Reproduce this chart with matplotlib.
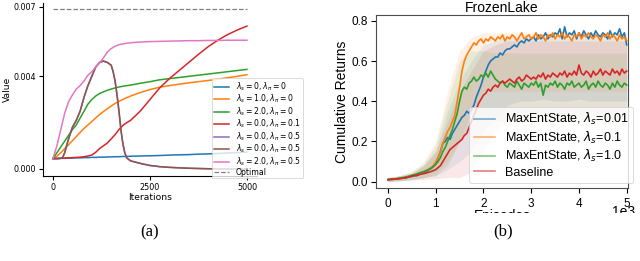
import numpy as np
import matplotlib
matplotlib.use("Agg")
import matplotlib.pyplot as plt
from matplotlib.patches import Rectangle

# ---------------- panel (a): value vs iterations ----------------
iters = [0, 100, 200, 300, 400, 500, 600, 700, 800, 900, 1000, 1100, 1200, 1300, 1400,
         1500, 1600, 1700, 1800, 1900, 2000, 2250, 2500, 2750, 3000, 3250, 3500, 3750,
         4000, 4250, 4500, 4750, 5000]

v_s0_p0 = [0.00045, 0.00045, 0.00046, 0.00046, 0.00047, 0.00047, 0.00048, 0.00048, 0.00049,
           0.00049, 0.0005, 0.0005, 0.00051, 0.00051, 0.00052, 0.00052, 0.00053, 0.00053,
           0.00054, 0.00054, 0.00055, 0.00056, 0.00057, 0.00058, 0.0006, 0.00061, 0.00062,
           0.00064, 0.00065, 0.00067, 0.00069, 0.00071, 0.00073]
v_s1_p0 = [0.00045, 0.00055, 0.0007, 0.00088, 0.00105, 0.00122, 0.0014, 0.00158, 0.00175,
           0.0019, 0.00205, 0.0022, 0.00235, 0.00248, 0.0026, 0.00272, 0.00283, 0.00292,
           0.003, 0.00308, 0.00315, 0.0033, 0.00343, 0.00353, 0.0036, 0.00366, 0.00372,
           0.00377, 0.00382, 0.00388, 0.00394, 0.004, 0.00407]
v_s2_p0 = [0.00045, 0.0007, 0.00095, 0.0012, 0.00145, 0.0017, 0.0019, 0.0022, 0.0025, 0.0028,
           0.003, 0.00315, 0.00326, 0.00333, 0.0034, 0.00345, 0.0035, 0.00354, 0.00357,
           0.0036, 0.00362, 0.0037, 0.00377, 0.00385, 0.0039, 0.00395, 0.004, 0.00405,
           0.0041, 0.00415, 0.0042, 0.00425, 0.0043]
v_s0_p01 = [0.00045, 0.00045, 0.00046, 0.00047, 0.00048, 0.00049, 0.0005, 0.00051, 0.00053,
            0.00056, 0.0006, 0.00072, 0.00088, 0.001, 0.00112, 0.0013, 0.00148, 0.0017,
            0.00188, 0.002, 0.0021, 0.0025, 0.003, 0.0035, 0.0039, 0.00425, 0.0046, 0.00495,
            0.00528, 0.00556, 0.0058, 0.006, 0.00617]
v_s2_p05 = [0.00045, 0.001, 0.0017, 0.0024, 0.0029, 0.0032, 0.00345, 0.0036, 0.0038, 0.00405,
            0.0042, 0.0044, 0.00458, 0.0048, 0.00505, 0.0052, 0.0053, 0.00537, 0.0054,
            0.00543, 0.00545, 0.00548, 0.0055, 0.00551, 0.00552, 0.00553, 0.00554, 0.00554,
            0.00555, 0.00555, 0.00556, 0.00556, 0.00556]

iters_p05 = [0, 100, 200, 250, 300, 400, 500, 600, 700, 800, 900, 1000, 1100, 1200, 1300,
             1400, 1500, 1550, 1600, 1650, 1700, 1750, 1800, 1850, 1900, 2000, 2250, 2500,
             2750, 3000, 3500, 4000, 4500, 5000]
v_s0_p05 = [0.00045, 0.00045, 0.00046, 0.0005, 0.0007, 0.0013, 0.0018, 0.0021, 0.0025, 0.0031,
            0.0036, 0.004, 0.0044, 0.0046, 0.00466, 0.0046, 0.00448, 0.0042, 0.0038, 0.0032,
            0.0025, 0.0017, 0.0011, 0.0007, 0.00048, 0.00035, 0.00024, 0.00015, 0.0001,
            0.00007, 0.00003, 0.00001, 0.0, 0.0]
optimal = 0.00689

labels_a = [r"$\lambda_s=0, \lambda_\pi=0$", r"$\lambda_s=1.0, \lambda_\pi=0$",
            r"$\lambda_s=2.0, \lambda_\pi=0$", r"$\lambda_s=0.0, \lambda_\pi=0.1$",
            r"$\lambda_s=0.0, \lambda_\pi=0.5$", r"$\lambda_s=0.0, \lambda_\pi=0.5$",
            r"$\lambda_s=2.0, \lambda_\pi=0.5$", "Optimal"]

# ---------------- panel (b): FrozenLake returns ----------------
episodes = np.arange(0, 5001, 50)

ret_001 = [0.01, 0.012, 0.011, 0.014, 0.013, 0.016, 0.018, 0.017, 0.021, 0.024, 0.026,
           0.03, 0.029, 0.035, 0.04, 0.045, 0.05, 0.058, 0.065, 0.075, 0.09,
           0.12, 0.15, 0.19, 0.2, 0.22, 0.21, 0.24, 0.26, 0.28, 0.3,
           0.32, 0.33, 0.35, 0.34, 0.36, 0.38, 0.42, 0.45, 0.48, 0.52,
           0.55, 0.58, 0.6, 0.61, 0.62, 0.62, 0.64, 0.63, 0.65, 0.66,
           0.66, 0.67, 0.68, 0.67, 0.69, 0.7, 0.69, 0.71, 0.7, 0.71,
           0.72, 0.7, 0.73, 0.71, 0.72, 0.74, 0.71, 0.73, 0.72, 0.74,
           0.73, 0.76, 0.71, 0.77, 0.72, 0.74, 0.73, 0.75, 0.71, 0.74,
           0.72, 0.75, 0.73, 0.71, 0.74, 0.72, 0.75, 0.73, 0.72, 0.74,
           0.73, 0.71, 0.75, 0.72, 0.74, 0.73, 0.76, 0.72, 0.74, 0.68]
ret_01 = [0.01, 0.011, 0.013, 0.012, 0.015, 0.017, 0.016, 0.02, 0.023, 0.025, 0.03,
          0.032, 0.036, 0.04, 0.045, 0.05, 0.056, 0.062, 0.07, 0.08, 0.1,
          0.12, 0.15, 0.19, 0.22, 0.25, 0.27, 0.3, 0.33, 0.4, 0.47,
          0.55, 0.6, 0.63, 0.65, 0.67, 0.69, 0.68, 0.7, 0.71, 0.69,
          0.71, 0.7, 0.72, 0.71, 0.7, 0.72, 0.71, 0.73, 0.7, 0.72,
          0.71, 0.73, 0.72, 0.7, 0.72, 0.74, 0.71, 0.72, 0.73, 0.71,
          0.72, 0.74, 0.71, 0.73, 0.72, 0.7, 0.73, 0.72, 0.74, 0.71,
          0.73, 0.72, 0.74, 0.71, 0.73, 0.72, 0.7, 0.73, 0.72, 0.74,
          0.71, 0.73, 0.72, 0.74, 0.72, 0.71, 0.73, 0.72, 0.7, 0.73,
          0.72, 0.74, 0.71, 0.73, 0.72, 0.7, 0.73, 0.71, 0.72, 0.7]
ret_10 = [0.01, 0.012, 0.014, 0.013, 0.016, 0.018, 0.02, 0.022, 0.025, 0.028, 0.032,
          0.035, 0.038, 0.043, 0.047, 0.05, 0.055, 0.06, 0.066, 0.075, 0.085,
          0.1, 0.12, 0.15, 0.17, 0.2, 0.23, 0.26, 0.3, 0.34, 0.4,
          0.45, 0.47, 0.46, 0.49, 0.5, 0.52, 0.5, 0.51, 0.53, 0.52,
          0.54, 0.52, 0.55, 0.53, 0.51, 0.5, 0.49, 0.5, 0.48, 0.47,
          0.49, 0.48, 0.47, 0.5, 0.48, 0.46, 0.49, 0.48, 0.47, 0.49,
          0.48, 0.5, 0.47, 0.49, 0.43, 0.48, 0.47, 0.49, 0.48, 0.5,
          0.47, 0.49, 0.48, 0.46, 0.49, 0.48, 0.5, 0.47, 0.48, 0.49,
          0.47, 0.48, 0.5, 0.46, 0.48, 0.49, 0.47, 0.5, 0.48, 0.47,
          0.49, 0.48, 0.46, 0.49, 0.47, 0.5, 0.48, 0.47, 0.49, 0.48]
ret_base = [0.01, 0.011, 0.012, 0.014, 0.013, 0.015, 0.017, 0.019, 0.021, 0.024, 0.027,
            0.03, 0.032, 0.035, 0.038, 0.04, 0.043, 0.047, 0.05, 0.055, 0.06,
            0.07, 0.08, 0.1, 0.12, 0.14, 0.16, 0.17, 0.18, 0.19, 0.2,
            0.21, 0.23, 0.24, 0.27, 0.3, 0.33, 0.36, 0.39, 0.41, 0.43,
            0.44, 0.46, 0.45, 0.47, 0.48, 0.47, 0.49, 0.5, 0.49, 0.5,
            0.51, 0.5, 0.49, 0.51, 0.52, 0.5, 0.51, 0.53, 0.52, 0.51,
            0.52, 0.51, 0.53, 0.52, 0.54, 0.51, 0.53, 0.52, 0.54, 0.53,
            0.52, 0.54, 0.53, 0.55, 0.52, 0.54, 0.53, 0.55, 0.53, 0.58,
            0.54, 0.53, 0.55, 0.54, 0.52, 0.55, 0.53, 0.54, 0.56, 0.53,
            0.55, 0.54, 0.53, 0.56, 0.54, 0.55, 0.53, 0.56, 0.54, 0.55]

# spread bands, every 250 episodes
band_eps = np.arange(0, 5001, 250)
lo_001 = [0.0, 0.005, 0.01, 0.02, 0.03, 0.06, 0.1, 0.15, 0.25, 0.32, 0.38, 0.4, 0.4, 0.41,
          0.4, 0.4, 0.41, 0.4, 0.4, 0.4, 0.4]
hi_001 = [0.02, 0.03, 0.04, 0.08, 0.15, 0.35, 0.5, 0.6, 0.68, 0.7, 0.72, 0.72, 0.72, 0.72,
          0.72, 0.72, 0.72, 0.72, 0.72, 0.72, 0.72]
lo_01 = [0.0, 0.005, 0.01, 0.02, 0.04, 0.1, 0.2, 0.35, 0.45, 0.45, 0.45, 0.45, 0.45, 0.45,
         0.45, 0.45, 0.45, 0.45, 0.45, 0.45, 0.45]
hi_01 = [0.02, 0.03, 0.05, 0.1, 0.2, 0.45, 0.65, 0.72, 0.74, 0.74, 0.74, 0.74, 0.74, 0.74,
         0.74, 0.74, 0.74, 0.74, 0.74, 0.74, 0.74]
lo_10 = [0.0, 0.005, 0.01, 0.02, 0.03, 0.08, 0.2, 0.3, 0.32, 0.3, 0.3, 0.3, 0.3, 0.3,
         0.3, 0.3, 0.3, 0.3, 0.3, 0.3, 0.3]
hi_10 = [0.02, 0.03, 0.05, 0.09, 0.18, 0.4, 0.6, 0.65, 0.65, 0.64, 0.64, 0.64, 0.64, 0.64,
         0.64, 0.64, 0.64, 0.64, 0.64, 0.64, 0.64]
lo_base = [0.0, 0.004, 0.008, 0.01, 0.015, 0.02, 0.02, 0.05, 0.15, 0.25, 0.3, 0.32, 0.33,
           0.33, 0.33, 0.33, 0.33, 0.33, 0.33, 0.33, 0.33]
hi_base = [0.02, 0.03, 0.04, 0.08, 0.15, 0.3, 0.45, 0.55, 0.65, 0.68, 0.7, 0.7, 0.7, 0.7,
           0.7, 0.7, 0.7, 0.7, 0.7, 0.7, 0.7]

labels_b = [r"MaxEntState, $\lambda_s$=0.01", r"MaxEntState, $\lambda_s$=0.1",
            r"MaxEntState, $\lambda_s$=1.0", "Baseline"]

fig = plt.figure(figsize=(6.4, 2.61), dpi=100)

# ---- (a)
ax = fig.add_axes([0.0677, 0.326, 0.3333, 0.661])
ax.plot(iters, v_s0_p0, color="C0", lw=1.1, label=labels_a[0])
ax.plot(iters, v_s1_p0, color="C1", lw=1.1, label=labels_a[1])
ax.plot(iters, v_s2_p0, color="C2", lw=1.1, label=labels_a[2])
ax.plot(iters, v_s0_p01, color="C3", lw=1.1, label=labels_a[3])
ax.plot(iters_p05, v_s0_p05, color="C4", lw=1.1, label=labels_a[4])
ax.plot(iters_p05, v_s0_p05, color="C5", lw=1.1, label=labels_a[5])
ax.plot(iters, v_s2_p05, color="C6", lw=1.1, label=labels_a[6])
ax.plot([iters[0], iters[-1]], [optimal, optimal], color="gray", ls="--", lw=0.9,
        label=labels_a[7])
ax.set_xlim(-250, 5250)
ax.set_ylim(-0.0003, 0.00715)
ax.set_xticks([0, 2500, 5000])
ax.set_yticks([0.0, 0.004, 0.007])
ax.set_yticklabels(["0.000", "0.004", "0.007"])
ax.spines["top"].set_visible(False)
ax.spines["right"].set_visible(False)
ax.tick_params(labelsize=5.8, length=3, width=0.8, pad=2)
ax.set_xlabel("Iterations", fontsize=6.6, labelpad=1)
ax.set_ylabel("Value", fontsize=6.6, labelpad=1)
leg = ax.legend(loc="upper left", bbox_to_anchor=(0.79, 0.567), borderaxespad=0,
                fontsize=5.6, labelspacing=0.0, handlelength=2.0, handleheight=0.4,
                frameon=True, borderpad=0.25)
leg.get_frame().set_linewidth(0.6)

# ---- (b)
sans = ["Liberation Sans", "DejaVu Sans"]
bx = fig.add_axes([0.5875, 0.2785, 0.394, 0.665])
cols = ["C0", "C1", "C2", "C3"]
means = [ret_001, ret_01, ret_10, ret_base]
los = [lo_001, lo_01, lo_10, lo_base]
his = [hi_001, hi_01, hi_10, hi_base]
for c, lo, hi in zip(cols, los, his):
    bx.fill_between(band_eps, lo, hi, color=c, alpha=0.1, lw=0)
for c, m, lab in zip(cols, means, labels_b):
    bx.plot(episodes, m, color=c, lw=1.2, label=lab)
bx.set_xlim(-250, 5030)
bx.set_ylim(-0.033, 0.83)
bx.set_xticks([0, 1000, 2000, 3000, 4000, 5000])
bx.set_xticklabels(["0", "1", "2", "3", "4", "5"])
bx.set_yticks([0.0, 0.2, 0.4, 0.6, 0.8])
bx.tick_params(labelsize=8.5, length=3.5, width=0.8, pad=2)
bx.tick_params(axis="x", pad=3.5)
for t in bx.get_xticklabels() + bx.get_yticklabels():
    t.set_family(sans)
# scale marker of the episode axis
bx.text(0.98, -0.095, "1e3", transform=bx.transAxes, ha="center", va="top",
        fontsize=10, family=sans)
bx.set_title("FrozenLake", fontsize=10, family=sans, pad=2)
bx.set_xlabel("Episodes", fontsize=10, family=sans, labelpad=-1)
bx.set_ylabel("Cumulative Returns", fontsize=10, family=sans, labelpad=2)
for s in bx.spines.values():
    s.set_linewidth(0.8)
    s.set_color("0.3")
lg = bx.legend(loc="lower right", bbox_to_anchor=(1.02, 0.03), borderaxespad=0,
               prop={"family": sans, "size": 9}, handlelength=1.7, labelspacing=0.2,
               borderpad=0.35)
for h in lg.get_lines():
    h.set_alpha(0.6)
lg.get_frame().set_linewidth(0.6)

# bottom of panel (b) was cropped below its axis label
fig.add_artist(Rectangle((0.53, 0.0), 0.47, 0.182, transform=fig.transFigure,
                         facecolor="white", edgecolor="none", zorder=5))

fig.text(150 / 640, 1 - 232 / 261, "(a)", ha="center", va="center", fontsize=12,
         family="Liberation Serif", zorder=6)
fig.text(503 / 640, 1 - 231 / 261, "(b)", ha="center", va="center", fontsize=12,
         family="Liberation Serif", zorder=6)

fig.savefig("out.png", dpi=100)
